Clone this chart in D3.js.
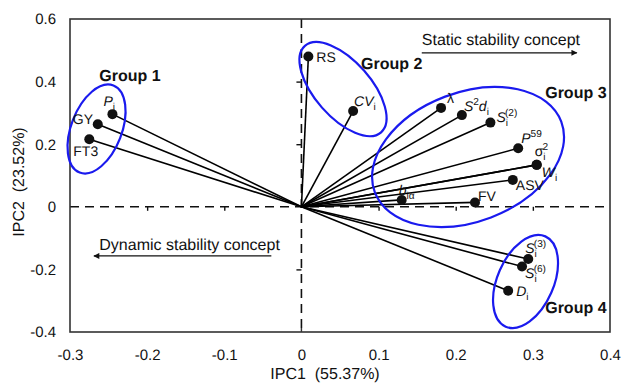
<!DOCTYPE html>
<html><head><meta charset="utf-8">
<script src="https://cdn.jsdelivr.net/npm/d3@7"></script>
<style>
body{margin:0;background:#fff}
svg{display:block;font-family:"Liberation Sans",Arial,Helvetica,sans-serif}
svg text{text-rendering:geometricPrecision;-webkit-font-smoothing:antialiased}
.lbl{opacity:0.999}
</style>
</head><body>
<svg id="chart" width="626" height="386"></svg>
<script>
// ---------- data ----------
const traitLabels = ["*P*_{i}", "GY", "FT3", "RS", "*CV*_{i}", "λ", "*S*^{2}*d*_{i}", "*S*_{i}^{(2)}",
  "*P*^{59}", "σ_{i}^{2}", "*W*_{i}", "ASV", "FV", "*b*_{iα}", "*S*_{i}^{(3)}", "*S*_{i}^{(6)}", "*D*_{i}"];
const ipc1 = [-0.245, -0.264, -0.275, 0.009, 0.067, 0.181, 0.208, 0.245,
  0.281, 0.305, 0.305, 0.274, 0.225, 0.130, 0.294, 0.286, 0.268];
const ipc2 = [0.296, 0.264, 0.216, 0.480, 0.306, 0.316, 0.293, 0.269,
  0.187, 0.134, 0.134, 0.086, 0.014, 0.022, -0.167, -0.191, -0.268];

const groupNames = ["Group 1", "Group 2", "Group 3", "Group 4"];
const groupCenterX = [-0.2656, 0.0539, 0.216, 0.2905];
const groupCenterY = [0.2486, 0.376, 0.159, -0.2387];
const groupLabelX = [-0.262, 0.0773, 0.316, 0.316];
const groupLabelY = [0.402, 0.440, 0.348, -0.339];

const xTicks = [-0.3, -0.2, -0.1, 0, 0.1, 0.2, 0.3, 0.4];
const yTicks = [-0.4, -0.2, 0, 0.2, 0.4, 0.6];
const xTitle = "IPC1  (55.37%)";
const yTitle = "IPC2  (23.52%)";

const conceptTexts = ["Static stability concept", "Dynamic stability concept"];
const conceptFromX = [0.156, -0.039];
const conceptToX = [0.357, -0.269];
const conceptY = [0.492, -0.157];
const conceptTextX = [0.156, -0.262];
const conceptTextY = [0.517, -0.138];

// ---------- layout ----------
const plot = {left: 70, right: 610, top: 19, bottom: 332};
const labelOffsets = [[-9,-8],[-25,0],[-16,17],[8,5],[1,-5],[6,-5],[2,-4],[6,-1],
  [3,-5],[-2,-9],[5,12],[3,10],[3,-1],[-3,-5],[-3,-6],[3,11],[8,5]];
const ellipseShape = [ // rx, ry (px), rotation (deg)
  [46.7, 25.3, -68.8], [57.6, 28, 48.6], [99.7, 64.6, -20.8], [49.3, 28.1, -66.3]];
const blue = "#1a1aee";
const ink = "#111";

const svg = d3.select("#chart");
const x = d3.scaleLinear().domain([-0.3, 0.4]).range([plot.left, plot.right]);
const y = d3.scaleLinear().domain([-0.4, 0.6]).range([plot.bottom, plot.top]);
const fmt = d => d === 0 ? "0" : d3.format(".1f")(d).replace("\u2212", "-");

// tick labels (outer frame)
const xAx = svg.append("g").attr("transform", `translate(0,${plot.bottom})`)
  .call(d3.axisBottom(x).tickValues(xTicks).tickFormat(fmt).tickSize(0).tickPadding(17));
const yAx = svg.append("g").attr("transform", `translate(${plot.left},0)`)
  .call(d3.axisLeft(y).tickValues(yTicks).tickFormat(fmt).tickSize(0).tickPadding(14));
[xAx, yAx].forEach(g => {
  g.select(".domain").remove();
  g.selectAll("text").attr("font-size", 15).attr("fill", ink)
    .attr("font-family", '"Liberation Sans",Arial,sans-serif');
});

// dashed center axes
svg.append("line").attr("x1", plot.left).attr("x2", plot.right)
  .attr("y1", y(0)).attr("y2", y(0))
  .attr("stroke", ink).attr("stroke-width", 1.6).attr("stroke-dasharray", "9,6");
svg.append("line").attr("x1", x(0)).attr("x2", x(0))
  .attr("y1", plot.top).attr("y2", plot.bottom)
  .attr("stroke", ink).attr("stroke-width", 1.6).attr("stroke-dasharray", "9,6");

const cx = svg.append("g").attr("transform", `translate(0,${y(0)})`)
  .call(d3.axisBottom(x).tickValues(xTicks.filter(d => d !== 0 && d > -0.3 && d < 0.4)).tickFormat("").tickSize(4).tickSizeOuter(0));
const cy = svg.append("g").attr("transform", `translate(${x(0)},0)`)
  .call(d3.axisLeft(y).tickValues(yTicks.filter(d => d !== 0 && d > -0.4 && d < 0.6)).tickFormat("").tickSize(5).tickSizeOuter(0));
[cx, cy].forEach(g => {
  g.select(".domain").remove();
  g.selectAll("line").attr("stroke", ink).attr("stroke-width", 1.4);
});

// frame
svg.append("rect").attr("x", plot.left).attr("y", plot.top)
  .attr("width", plot.right - plot.left).attr("height", plot.bottom - plot.top)
  .attr("fill", "none").attr("stroke", "#333").attr("stroke-width", 1.6);
svg.append("line").attr("x1", x(0)).attr("x2", x(0)).attr("y1", plot.bottom).attr("y2", plot.bottom - 4)
  .attr("stroke", "#333").attr("stroke-width", 1.4);

// vectors
const pts = traitLabels.map((l, i) => ({label: l, x: ipc1[i], y: ipc2[i], off: labelOffsets[i]}));
svg.append("g").selectAll("line").data(pts).join("line")
  .attr("x1", x(0)).attr("y1", y(0))
  .attr("x2", d => x(d.x)).attr("y2", d => y(d.y))
  .attr("stroke", "#000").attr("stroke-width", 1.6);

// ellipses
svg.append("g").selectAll("ellipse").data(groupNames).join("ellipse")
  .attr("cx", 0).attr("cy", 0)
  .attr("rx", (d, i) => ellipseShape[i][0]).attr("ry", (d, i) => ellipseShape[i][1])
  .attr("transform", (d, i) => `translate(${x(groupCenterX[i])},${y(groupCenterY[i])}) rotate(${ellipseShape[i][2]})`)
  .attr("fill", "none").attr("stroke", blue).attr("stroke-width", 2.2);

// dots
svg.append("g").selectAll("circle").data(pts).join("circle")
  .attr("cx", d => x(d.x)).attr("cy", d => y(d.y)).attr("r", 5)
  .attr("fill", ink);

// label markup parser
function parse(s) {
  const parts = []; let italic = false; let i = 0;
  while (i < s.length) {
    const c = s[i];
    if (c === "*") { italic = !italic; i++; continue; }
    if ((c === "_" || c === "^") && s[i + 1] === "{") {
      const j = s.indexOf("}", i);
      parts.push({t: s.slice(i + 2, j), it: italic, pos: c === "_" ? "sub" : "sup"});
      i = j + 1; continue;
    }
    let j = i; let t = "";
    while (j < s.length && s[j] !== "*" && !((s[j] === "_" || s[j] === "^") && s[j + 1] === "{")) { t += s[j]; j++; }
    parts.push({t, it: italic, pos: "base"}); i = j;
  }
  return parts;
}

const fs = 14;
const shift = {base: 0, sub: 4, sup: -6};
const lblG = svg.append("g").attr("class", "lbl");
pts.forEach(p => {
  const t = lblG.append("text")
    .attr("x", x(p.x) + p.off[0]).attr("y", y(p.y) + p.off[1])
    .attr("font-size", fs).attr("fill", ink);
  let cur = 0; let prev = null;
  parse(p.label).forEach(part => {
    const target = shift[part.pos];
    const ts = t.append("tspan").text(part.t)
      .attr("dy", target - cur)
      .attr("fill", ink)
      .attr("font-style", part.it ? "italic" : "normal")
      .attr("font-size", part.pos === "base" ? fs : fs * 0.72);
    if (part.pos === "sup" && prev === "sub") ts.attr("dx", -3);
    cur = target; prev = part.pos;
  });
});

// group labels
groupNames.forEach((g, i) => {
  svg.append("text").attr("x", x(groupLabelX[i])).attr("y", y(groupLabelY[i]))
    .attr("font-size", 16).attr("font-weight", "bold").attr("fill", ink).text(g);
});

// concept arrows
svg.append("defs").append("marker").attr("id", "ah")
  .attr("viewBox", "0 0 10 10").attr("refX", 9).attr("refY", 5)
  .attr("markerWidth", 7).attr("markerHeight", 6).attr("markerUnits", "userSpaceOnUse")
  .attr("orient", "auto")
  .append("path").attr("d", "M0,0 L10,5 L0,10 Z").attr("fill", ink);
conceptTexts.forEach((c, i) => {
  svg.append("line").attr("x1", x(conceptFromX[i])).attr("x2", x(conceptToX[i]))
    .attr("y1", y(conceptY[i])).attr("y2", y(conceptY[i]))
    .attr("stroke", ink).attr("stroke-width", 1.3).attr("marker-end", "url(#ah)");
  svg.append("text").attr("x", x(conceptTextX[i])).attr("y", y(conceptTextY[i]))
    .attr("font-size", 16).attr("fill", ink).text(c);
});

// axis titles
svg.append("text").attr("x", 325).attr("y", 379).attr("text-anchor", "middle")
  .attr("font-size", 16).attr("fill", ink)
  .style("white-space", "pre").text(xTitle);
svg.append("text").attr("transform", "translate(24,182) rotate(-90)").attr("text-anchor", "middle")
  .attr("font-size", 16).attr("fill", ink)
  .style("white-space", "pre").text(yTitle);
</script>
</body></html>
